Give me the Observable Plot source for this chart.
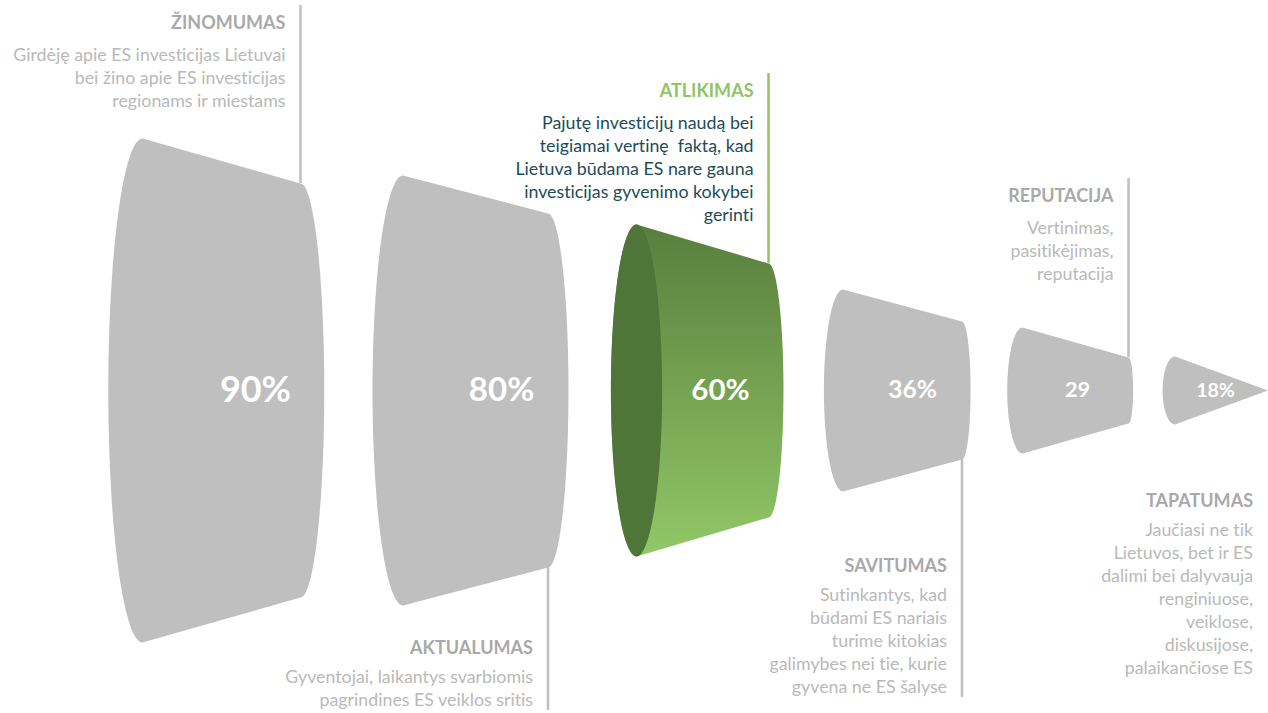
<!DOCTYPE html>
<html><head><meta charset="utf-8">
<script src="https://cdn.jsdelivr.net/npm/d3@7"></script>
<script src="https://cdn.jsdelivr.net/npm/@observablehq/plot@0.6"></script>
<style>html,body{margin:0;padding:0;background:#fff;} #chart svg{display:block;} #chart text{font-variant-ligatures:none;font-feature-settings:"liga" 0;}</style>
</head><body><div id="chart"></div>
<script>
// ---- data ----
const stages = ["ŽINOMUMAS", "AKTUALUMAS", "ATLIKIMAS", "SAVITUMAS", "REPUTACIJA", "TAPATUMAS"];
const values = [90, 80, 60, 36, 29, 18];
const valueLabels = ["90%", "80%", "60%", "36%", "29", "18%"];
const descriptions = [
  ["Girdėję apie ES investicijas Lietuvai", "bei žino apie ES investicijas", "regionams ir miestams"],
  ["Gyventojai, laikantys svarbiomis", "pagrindines ES veiklos sritis"],
  ["Pajutę investicijų naudą bei", "teigiamai vertinę  faktą, kad", "Lietuva būdama ES nare gauna", "investicijas gyvenimo kokybei", "gerinti"],
  ["Sutinkantys, kad", "būdami ES nariais", "turime kitokias", "galimybes nei tie, kurie", "gyvena ne ES šalyse"],
  ["Vertinimas,", "pasitikėjimas,", "reputacija"],
  ["Jaučiasi ne tik", "Lietuvos, bet ir ES", "dalimi bei dalyvauja", "renginiuose,", "veiklose,", "diskusijose,", "palaikančiose ES"]
];
const highlighted = "ATLIKIMAS";

// ---- layout (derived from stage order and values) ----
const W = 1268, H = 713;
const FONT = "Lato, 'Open Sans', sans-serif";
const halfLeft = d3.scaleLinear([18, 29, 36, 60, 80, 90], [34, 63, 101, 166, 215, 252]);
const halfRight = d3.scaleLinear([18, 29, 36, 60, 80, 90], [0, 33, 69, 127, 177, 207]);
const stageCenter = i => 221 + 254 * i - 13.5 * i * (i - 1);
const stageHalfLen = i => 79 - 6.5 * i;
const calloutSide = ["top", "bottom", "top", "bottom", "top", "bottom"];
const calloutOuter = [-385, 320, -317, 307, -212, 288];
const calloutRule = [true, true, true, true, true, false];

const shapes = stages.map((stage, i) => {
  const v = values[i], hL = halfLeft(v), hR = halfRight(v);
  const c = stageCenter(i), L = stageHalfLen(i);
  return {stage, i, v, label: valueLabels[i], c, xL: c - L, xR: c + L, hL, hR,
          rxL: 0.1 * hL + 9, rxR: 0.11 * hR + 1};
});

function outline(d) {
  const pts = [], N = 48;
  for (let k = 0; k <= N; k++) {
    const t = -Math.PI / 2 + Math.PI * k / N;
    pts.push({stage: d.stage, x: d.xL - d.rxL * Math.cos(t), y: d.hL * Math.sin(t)});
  }
  for (let k = 0; k <= N; k++) {
    const t = Math.PI / 2 - Math.PI * k / N;
    pts.push({stage: d.stage, x: d.xR + (d.hR > 0 ? d.rxR : 0) * Math.cos(t), y: d.hR * Math.sin(t)});
  }
  return pts;
}
function ellipse(d) {
  const pts = [], N = 96;
  for (let k = 0; k <= N; k++) {
    const t = 2 * Math.PI * k / N;
    pts.push({stage: d.stage, x: d.xL + d.rxL * Math.cos(t), y: d.hL * Math.sin(t)});
  }
  return pts;
}
const grayPts = shapes.filter(d => d.stage !== highlighted).flatMap(outline);
const greenPts = shapes.filter(d => d.stage === highlighted).flatMap(outline);
const facePts = shapes.filter(d => d.stage === highlighted).flatMap(ellipse);

const GRAY = "#bfbfbf", GREEN = "#8fc467";
const callouts = shapes.map((d, i) => {
  const side = calloutSide[i], outer = calloutOuter[i], n = descriptions[i].length, lh = 23;
  let titleY, firstY;
  if (side === "top") { titleY = outer + 18; firstY = titleY + 32; }
  else { firstY = outer - 10 - (n - 1) * lh; titleY = firstY - 29; }
  const hi = d.stage === highlighted;
  return {
    stage: d.stage, x: d.xR, tx: d.xR - 15,
    y1: side === "top" ? -d.hR : d.hR, y2: outer, rule: calloutRule[i],
    titleY, firstY, text: descriptions[i].join("\n"),
    titleColor: hi ? GREEN : "#a9a9a9", descColor: hi ? "#1d4c59" : "#b9b9b9",
    ruleColor: hi ? GREEN : GRAY
  };
});

function gradientDefs() {
  const defs = document.createElementNS("http://www.w3.org/2000/svg", "defs");
  defs.innerHTML = `<linearGradient id="greenGrad" x1="0" y1="0" x2="0" y2="1">
    <stop offset="0" stop-color="#587e3d"/><stop offset="1" stop-color="#92c867"/></linearGradient>`;
  return defs;
}

const DESC_FS = 17.8;
const chart = Plot.plot({
  width: W, height: H, margin: 0,
  x: {domain: [0, W], range: [0, W], axis: null},
  y: {domain: [-390, H - 390], range: [0, H], axis: null},
  color: {type: "identity"},
  style: {fontFamily: FONT, background: "#fff", overflow: "visible"},
  marks: [
    gradientDefs,
    Plot.line(grayPts, {x: "x", y: "y", z: "stage", fill: GRAY, stroke: "none", curve: "linear"}),
    Plot.line(greenPts, {x: "x", y: "y", z: "stage", fill: "url(#greenGrad)", stroke: "none", curve: "linear"}),
    Plot.line(facePts, {x: "x", y: "y", z: "stage", fill: "#4f7538", stroke: "none", curve: "linear"}),
    Plot.ruleX(callouts.filter(d => d.rule), {x: "x", y1: "y1", y2: "y2", stroke: "ruleColor", strokeWidth: 2.5}),
    Plot.text(shapes, {
      x: d => d.c + 34 - 8 * d.i, y: () => 0,
      text: "label", fill: "#fff", fontWeight: "bold", fontFamily: FONT,
      fontSize: d => 17 + 0.075 * d.hL
    }),
    Plot.text(callouts, {
      x: "tx", y: "titleY", text: "stage", textAnchor: "end", fill: "titleColor",
      fontWeight: "bold", fontSize: 18, fontFamily: FONT
    }),
    Plot.text(callouts, {
      x: "tx", y: d => d.firstY - (0.36 * DESC_FS + 4), text: "text", textAnchor: "end", lineAnchor: "top",
      lineHeight: 23 / DESC_FS, fill: "descColor", fontSize: DESC_FS, fontFamily: FONT
    })
  ]
});
document.getElementById("chart").appendChild(chart);
</script>
</body></html>
